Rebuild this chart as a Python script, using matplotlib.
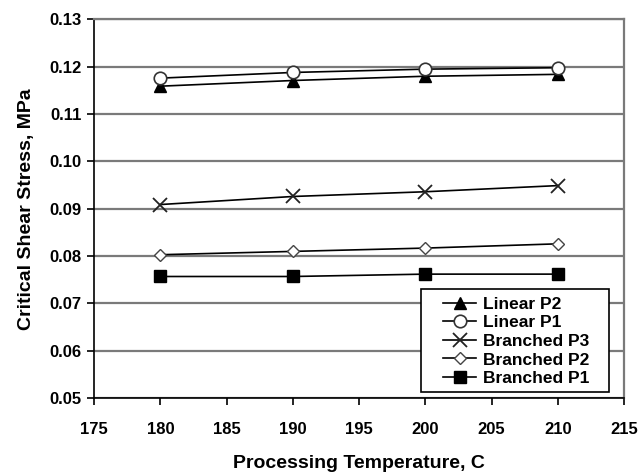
import matplotlib.pyplot as plt
from matplotlib.patches import Rectangle

temps = [180, 190, 200, 210]

linear_p2 = [0.1159, 0.1171, 0.1180, 0.1184]
linear_p1 = [0.1176, 0.1188, 0.1195, 0.1198]
branched_p3 = [0.0909, 0.0926, 0.0936, 0.0949]
branched_p2 = [0.0803, 0.0810, 0.0817, 0.0826]
branched_p1 = [0.0757, 0.0757, 0.0762, 0.0762]

x_ticks = [175, 180, 185, 190, 195, 200, 205, 210, 215]
y_ticks = [0.05, 0.06, 0.07, 0.08, 0.09, 0.10, 0.11, 0.12, 0.13]

plt.rcParams["font.family"] = ["Liberation Sans", "DejaVu Sans"]
plt.rcParams["font.weight"] = "bold"

fig = plt.figure(figsize=(6.4, 4.74), dpi=100)
ax = fig.add_axes([0.147, 0.160, 0.828, 0.799])

ax.set_xlim(175, 215)
ax.set_ylim(0.05, 0.13)
ax.set_xticks(x_ticks)
ax.set_yticks(y_ticks)
ax.set_yticklabels([f"{v:.2f}" for v in y_ticks])

# horizontal gridlines only, gray like the original
ax.grid(axis="y", color="#7a7a7a", linewidth=1.6)
ax.set_axisbelow(True)

line_kw = dict(color="black", linewidth=1.2)
ax.plot(temps, linear_p2, marker="^", markersize=9, markerfacecolor="black",
        markeredgecolor="black", label="Linear P2", **line_kw)
ax.plot(temps, linear_p1, marker="o", markersize=9, markerfacecolor="white",
        markeredgecolor="#333333", markeredgewidth=1.2, label="Linear P1", **line_kw)
ax.plot(temps, branched_p3, marker="x", markersize=10, markeredgewidth=1.3,
        markeredgecolor="#222222", label="Branched P3", **line_kw)
ax.plot(temps, branched_p2, marker="D", markersize=6, markerfacecolor="white",
        markeredgecolor="#444444", markeredgewidth=1.0, label="Branched P2", **line_kw)
ax.plot(temps, branched_p1, marker="s", markersize=9, markerfacecolor="black",
        markeredgecolor="black", label="Branched P1", **line_kw)

for side in ["top", "right"]:
    ax.spines[side].set_color("#7a7a7a")
    ax.spines[side].set_linewidth(1.6)
for side in ["left", "bottom"]:
    ax.spines[side].set_color("black")
    ax.spines[side].set_linewidth(1.2)

ax.tick_params(axis="both", direction="out", length=5, width=1.2,
               labelsize=12, colors="black")
ax.tick_params(axis="y", pad=4)
ax.tick_params(axis="x", pad=12)

ax.set_xlabel("Processing Temperature, C", fontsize=14, fontweight="bold", labelpad=13)
ax.set_ylabel("Critical Shear Stress, MPa", fontsize=14, fontweight="bold", labelpad=10)

# legend frame is wider than its contents in the original, so draw it separately
frame = Rectangle((0.617, 0.016), 0.355, 0.272, transform=ax.transAxes,
                  facecolor="white", edgecolor="black", linewidth=1.2, zorder=4)
ax.add_patch(frame)
leg = ax.legend(loc="center", bbox_to_anchor=(0.797, 0.150), fontsize=12.5,
                frameon=False, handlelength=1.9, handletextpad=0.4,
                labelspacing=0.2, borderpad=0.0, borderaxespad=0.0)
leg.set_zorder(5)

fig.savefig("out.png", dpi=100)
